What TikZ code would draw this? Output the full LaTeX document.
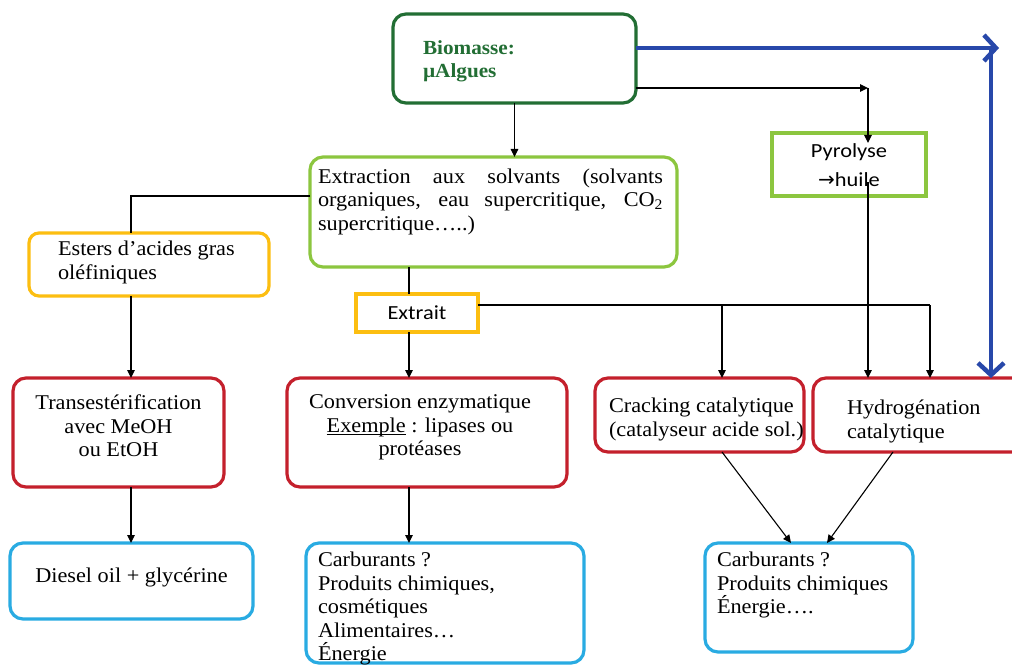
\documentclass[tikz,border=0pt]{standalone}
\usepackage{fontspec}
\setmainfont{Liberation Serif}[FakeStretch=1.06]
\newfontfamily\sansf{Carlito}[FakeStretch=1.12]
\newfontfamily\arrowf{DejaVu Sans}
\usetikzlibrary{arrows.meta,calc}
\definecolor{dgreen}{RGB}{34,110,52}
\definecolor{lgreen}{RGB}{140,198,63}
\definecolor{gold}{RGB}{252,190,17}
\definecolor{dred}{RGB}{196,32,44}
\definecolor{lblue}{RGB}{41,171,226}
\definecolor{dblue}{RGB}{40,72,170}
\newcommand\bt[4]{\parbox[c][#1pt][t]{#2pt}{\vspace*{#3pt}#4}}
\newcommand\ulword[1]{\underline{\smash{#1}}}
\tikzset{
  box/.style={draw, line width=3.2pt, rounded corners=13pt, inner sep=0pt, outer sep=0pt,
    anchor=north west, font=\fontsize{21}{23.5}\selectfont},
  arr/.style={line width=1.1pt, -{Triangle[length=8pt,width=7.5pt]}},
  plain/.style={line width=1.1pt},
  bluearr/.style={draw=dblue, line width=4.5pt, -{Straight Barb[length=12pt,width=26pt]}}
}
\begin{document}
\begin{tikzpicture}[x=1pt,y=-1pt]
\useasboundingbox (0,0) rectangle (1012,666);
\clip (0,0) rectangle (1012,666);
\fill[white] (0,0) rectangle (1012,666);
% boxes
\node[box, draw=dgreen] (bio) at (393,14)
  {\bt{89}{243}{24.9}{\raggedright\leftskip=30pt\bfseries\color{dgreen}\fontsize{20}{23}\selectfont\strut Biomasse:\\µAlgues}};
\node[box, draw=lgreen] (extr) at (310,157)
  {\bt{110}{367}{9.8}{\leftskip=8pt\rightskip=14pt\strut Extraction aux solvants (solvants\linebreak organiques, eau supercritique, CO\textsubscript{2}\linebreak supercritique…..)}};
\node[box, draw=lgreen, sharp corners, font=\sansf\fontsize{20}{29}\selectfont] (pyro) at (772,133)
  {\bt{63}{154}{3.8}{\centering\strut Pyrolyse\\{\arrowf →}huile}};
\node[box, draw=gold, rounded corners=10pt] (esters) at (29,233)
  {\bt{63}{240}{6.5}{\raggedright\leftskip=29pt\strut Esters d’acides gras\\oléfiniques}};
\node[box, draw=gold, sharp corners, font=\sansf\fontsize{20}{23}\selectfont,
  minimum width=122pt, minimum height=38pt] (extrait) at (356,294) {Extrait};
\node[box, draw=dred] (trans) at (13,378)
  {\bt{109}{211}{15.5}{\centering\strut Transestérification\\avec MeOH\\ou EtOH}};
\node[box, draw=dred] (conv) at (287,378)
  {\bt{109}{280}{14.5}{\centering\rightskip=14pt plus 1fil\strut Conversion enzymatique\\\ulword{Exemple} : lipases ou\\protéases}};
\node[box, draw=dred] (crack) at (595,378)
  {\bt{74}{209}{18.5}{\raggedright\leftskip=14pt\strut Cracking catalytique\\(catalyseur acide sol.)}};
\node[box, draw=dred] (hydro) at (813,378)
  {\bt{74}{230}{20.5}{\raggedright\leftskip=34pt\strut Hydrogénation\\catalytique}};
\node[box, draw=lblue] (diesel) at (10,543)
  {\bt{76}{243}{23.5}{\centering\strut Diesel oil + glycérine}};
\node[box, draw=lblue] (carb1) at (306,543)
  {\bt{120}{278}{7.5}{\raggedright\leftskip=12pt\strut Carburants ?\\Produits chimiques,\\cosmétiques\\Alimentaires…\\Énergie}};
\node[box, draw=lblue] (carb2) at (705,543)
  {\bt{109}{208}{7.5}{\raggedright\leftskip=12pt\strut Carburants ?\\Produits chimiques\\Énergie….}};
% guide coordinates
\coordinate (xa) at (131,0);
\coordinate (xb) at (409,0);
\coordinate (xc) at (722,0);
\coordinate (xd) at (930,0);
\coordinate (xp) at (868,0);
\coordinate (xq) at (991,0);
\coordinate (ya) at (0,88);
\coordinate (yb) at (0,48);
\coordinate (yc) at (0,196);
\coordinate (yd) at (0,305);
\coordinate (bt) at (999,48);
% connectors
\draw[arr] (bio.south) -- (bio.south |- extr.north);
\draw[arr] (bio.east |- ya) -- (xp |- ya);
\draw[arr] (xp |- ya) -- ($(xp |- pyro.north)+(0,10)$);
\draw[arr] ($(xp |- pyro.south)+(0,-14)$) -- (xp |- hydro.north);
\draw[bluearr] (bio.east |- yb) -- (bt);
\draw[bluearr] ($(xq |- yb)+(0,2)$) -- (xq |- hydro.north);
\draw[plain] (extr.west |- yc) -| (xa |- esters.north);
\draw[arr] (xa |- esters.south) -- (xa |- trans.north);
\draw[arr] (xa |- trans.south) -- (xa |- diesel.north);
\draw[plain] (xb |- extr.south) -- (xb |- extrait.north);
\draw[arr] (xb |- extrait.south) -- (xb |- conv.north);
\draw[arr] (xb |- conv.south) -- (xb |- carb1.north);
\draw[plain] (extrait.east |- yd) -- (xd |- yd);
\draw[arr] (xc |- yd) -- (xc |- crack.north);
\draw[arr] (xd |- yd) -- (xd |- hydro.north);
\draw[arr] (xc |- crack.south) -- ($(carb2.north west)+(86,0)$);
\draw[arr] ($(hydro.south west)+(80,0)$) -- ($(carb2.north west)+(122,0)$);
\end{tikzpicture}
\end{document}
